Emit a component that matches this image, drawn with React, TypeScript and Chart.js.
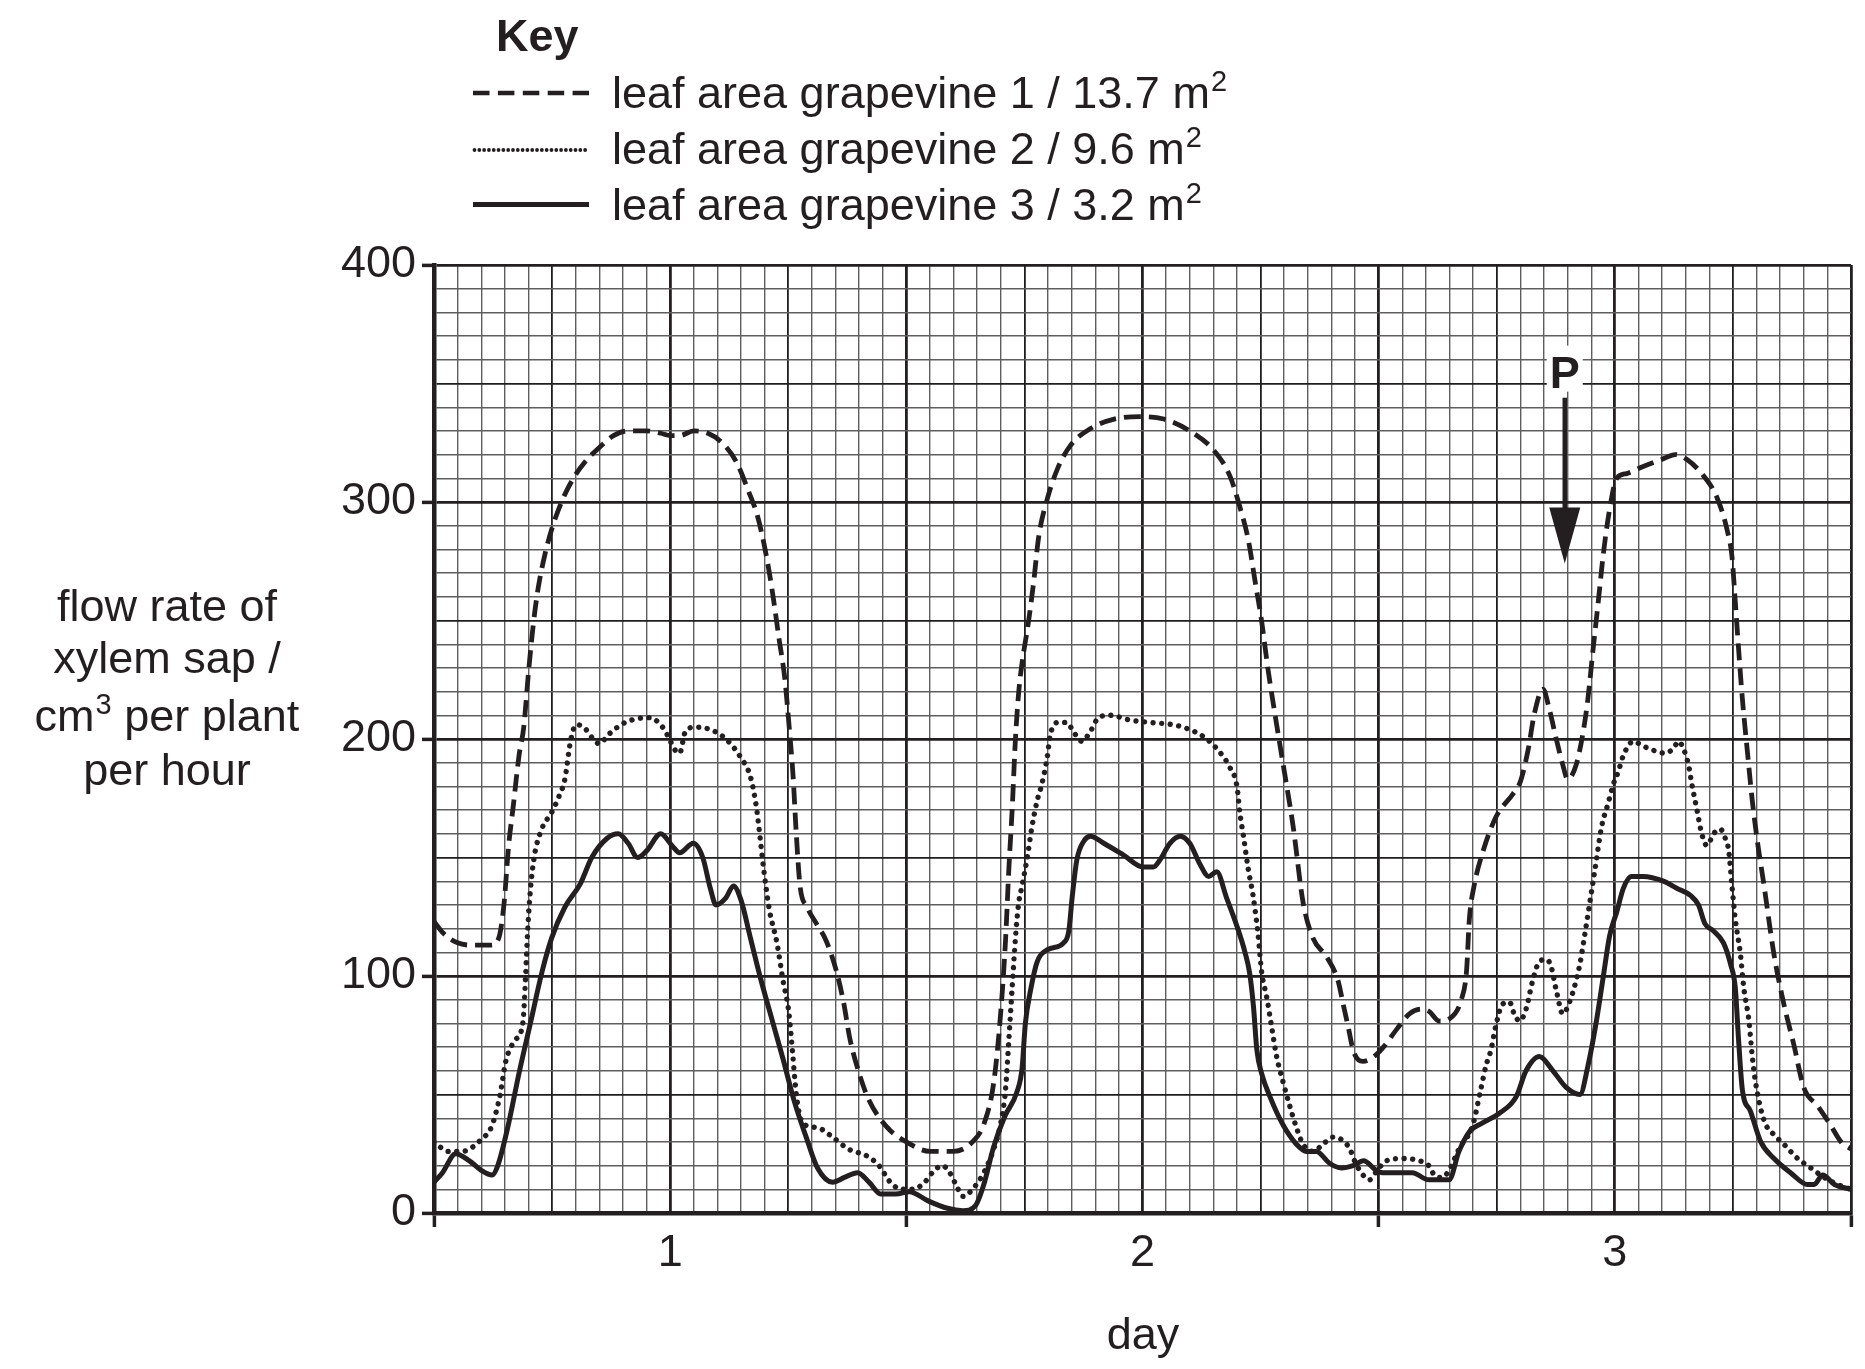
import React, { useEffect, useRef } from 'react';
import { Chart, registerables } from 'chart.js';

Chart.register(...registerables);

// ---------- data (day, flow rate cm3 per plant per hour) ----------
const days1 = [0.5, 0.52, 0.55, 0.58, 0.62, 0.637, 0.648, 0.658, 0.668, 0.68, 0.69, 0.7, 0.71, 0.72, 0.735, 0.75, 0.77, 0.795, 0.82, 0.85, 0.88, 0.91, 0.95, 0.98, 1.0, 1.02, 1.05, 1.08, 1.11, 1.14, 1.165, 1.185, 1.2, 1.215, 1.23, 1.243, 1.252, 1.26, 1.267, 1.275, 1.29, 1.31, 1.33, 1.352, 1.368, 1.38, 1.4, 1.42, 1.46, 1.5, 1.55, 1.6, 1.64, 1.665, 1.685, 1.7, 1.71, 1.717, 1.724, 1.731, 1.738, 1.745, 1.759, 1.77, 1.78, 1.798, 1.82, 1.848, 1.89, 1.94, 2.0, 2.045, 2.1, 2.15, 2.185, 2.206, 2.224, 2.238, 2.252, 2.266, 2.28, 2.298, 2.319, 2.34, 2.361, 2.39, 2.414, 2.425, 2.436, 2.447, 2.467, 2.49, 2.51, 2.54, 2.565, 2.59, 2.607, 2.628, 2.65, 2.675, 2.686, 2.692, 2.702, 2.72, 2.748, 2.785, 2.8, 2.816, 2.83, 2.848, 2.862, 2.876, 2.89, 2.9, 2.918, 2.933, 2.943, 2.954, 2.965, 2.975, 2.989, 3.004, 3.025, 3.06, 3.1, 3.128, 3.152, 3.188, 3.216, 3.238, 3.248, 3.255, 3.262, 3.27, 3.28, 3.291, 3.301, 3.316, 3.337, 3.358, 3.379, 3.4, 3.43, 3.457, 3.479, 3.5];
const flow1 = [123, 118, 114, 113, 113, 116, 130, 155, 172, 193, 205, 228, 248, 263, 278, 289, 300, 310, 317, 323, 328, 330, 330, 329, 328, 328, 330, 329, 325, 317, 305, 294, 281, 264, 243, 225, 205, 185, 160, 138, 129, 122, 115, 102, 88, 74, 59, 48, 36, 30, 26, 26, 30, 38, 55, 85, 115, 145, 170, 200, 220, 232, 250, 267, 285, 301, 314, 324, 331, 335, 336, 335, 330, 322, 311, 298, 284, 267, 250, 229, 211, 189, 163, 131, 116, 108, 98, 88, 78, 68, 64, 66, 70, 78, 84, 86, 85, 81, 82, 90, 102, 124, 138, 152, 167, 177, 182, 195, 211, 221, 212, 200, 189, 183, 189, 203, 217, 238, 258, 277, 297, 310, 312, 315, 318, 320, 318, 311, 302, 288, 277, 258, 238, 217, 196, 174, 158, 138, 109, 88, 71, 53, 45, 37, 30, 27];

const days2 = [0.5, 0.53, 0.56, 0.6, 0.623, 0.64, 0.652, 0.672, 0.688, 0.694, 0.698, 0.704, 0.712, 0.728, 0.749, 0.765, 0.777, 0.789, 0.801, 0.817, 0.837, 0.85, 0.87, 0.905, 0.955, 0.98, 0.996, 1.008, 1.02, 1.032, 1.053, 1.085, 1.118, 1.15, 1.17, 1.182, 1.19, 1.198, 1.21, 1.226, 1.239, 1.251, 1.259, 1.267, 1.28, 1.312, 1.344, 1.377, 1.417, 1.442, 1.466, 1.49, 1.514, 1.539, 1.555, 1.576, 1.592, 1.605, 1.62, 1.64, 1.664, 1.685, 1.699, 1.71, 1.717, 1.724, 1.731, 1.738, 1.745, 1.756, 1.766, 1.777, 1.787, 1.798, 1.805, 1.823, 1.84, 1.854, 1.872, 1.889, 1.907, 1.931, 1.973, 2.015, 2.065, 2.1, 2.129, 2.157, 2.185, 2.2, 2.206, 2.213, 2.224, 2.234, 2.245, 2.252, 2.263, 2.273, 2.284, 2.298, 2.312, 2.326, 2.34, 2.361, 2.382, 2.403, 2.421, 2.439, 2.449, 2.463, 2.481, 2.497, 2.516, 2.551, 2.587, 2.606, 2.618, 2.635, 2.649, 2.67, 2.699, 2.716, 2.727, 2.738, 2.748, 2.762, 2.777, 2.787, 2.798, 2.812, 2.826, 2.84, 2.855, 2.865, 2.876, 2.89, 2.904, 2.918, 2.926, 2.936, 2.947, 2.958, 2.972, 2.986, 2.997, 3.007, 3.018, 3.039, 3.06, 3.085, 3.106, 3.124, 3.135, 3.145, 3.156, 3.163, 3.174, 3.184, 3.195, 3.209, 3.223, 3.234, 3.241, 3.248, 3.255, 3.266, 3.273, 3.284, 3.291, 3.298, 3.316, 3.337, 3.358, 3.387, 3.415, 3.443, 3.472, 3.5];
const flow2 = [30, 26, 26, 31, 37, 50, 64, 73, 80, 100, 118, 136, 150, 162, 169, 176, 183, 199, 206, 205, 200, 198, 202, 207, 209, 206, 201, 196, 194, 203, 205, 204, 200, 192, 184, 172, 159, 145, 128, 114, 98, 85, 68, 50, 38, 36, 32, 27, 24, 20, 13, 10, 10, 13, 17, 20, 17, 12, 7, 10, 17, 27, 37, 52, 73, 95, 116, 131, 138, 150, 163, 174, 181, 192, 202, 207, 207, 203, 199, 203, 209, 210, 208, 207, 206, 204, 201, 196, 188, 180, 169, 160, 145, 134, 117, 102, 91, 79, 66, 55, 45, 36, 29, 26, 29, 32, 31, 27, 22, 17, 14, 18, 22, 23, 22, 20, 16, 15, 18, 27, 37, 52, 62, 69, 79, 88, 89, 84, 81, 86, 98, 106, 107, 104, 94, 84, 89, 98, 105, 117, 131, 145, 163, 173, 181, 186, 193, 199, 197, 195, 194, 196, 199, 196, 189, 181, 170, 160, 155, 160, 162, 158, 153, 138, 124, 109, 95, 81, 66, 55, 39, 33, 29, 23, 19, 15, 12, 10];

const days3 = [0.5, 0.518, 0.546, 0.575, 0.6, 0.623, 0.635, 0.656, 0.68, 0.704, 0.729, 0.749, 0.777, 0.81, 0.834, 0.866, 0.89, 0.911, 0.931, 0.951, 0.98, 1.004, 1.02, 1.049, 1.069, 1.085, 1.097, 1.118, 1.134, 1.15, 1.17, 1.19, 1.215, 1.239, 1.263, 1.288, 1.312, 1.344, 1.369, 1.397, 1.421, 1.446, 1.478, 1.506, 1.547, 1.587, 1.62, 1.646, 1.664, 1.685, 1.709, 1.734, 1.745, 1.752, 1.763, 1.777, 1.798, 1.833, 1.844, 1.851, 1.861, 1.876, 1.89, 1.918, 1.96, 2.001, 2.023, 2.037, 2.058, 2.08, 2.1, 2.122, 2.14, 2.157, 2.178, 2.2, 2.217, 2.227, 2.235, 2.242, 2.252, 2.27, 2.298, 2.326, 2.347, 2.368, 2.396, 2.421, 2.446, 2.468, 2.495, 2.509, 2.571, 2.606, 2.649, 2.67, 2.691, 2.72, 2.755, 2.791, 2.812, 2.84, 2.869, 2.897, 2.926, 2.943, 2.961, 2.975, 2.989, 3.004, 3.018, 3.035, 3.06, 3.103, 3.131, 3.16, 3.177, 3.191, 3.209, 3.23, 3.245, 3.255, 3.262, 3.27, 3.287, 3.309, 3.337, 3.372, 3.408, 3.422, 3.44, 3.465, 3.5];
const flow3 = [13, 17, 25, 22, 18, 16, 20, 36, 59, 80, 102, 116, 129, 139, 150, 158, 160, 156, 150, 153, 160, 155, 152, 156, 150, 137, 130, 133, 138, 132, 116, 100, 82, 65, 47, 32, 19, 13, 15, 17, 13, 8, 8, 9, 5, 2, 1, 3, 12, 28, 41, 51, 61, 80, 94, 106, 111, 114, 119, 133, 149, 157, 159, 156, 151, 146, 146, 149, 156, 159, 156, 147, 142, 144, 133, 121, 110, 101, 87, 69, 59, 49, 37, 29, 26, 26, 21, 19, 20, 22, 18, 17, 17, 14, 14, 26, 34, 38, 42, 49, 60, 66, 60, 53, 50, 62, 81, 99, 117, 127, 137, 142, 142, 140, 137, 134, 130, 122, 119, 114, 105, 95, 73, 52, 43, 30, 23, 17, 12, 12, 16, 12, 10];

const seriesLabels = [
  'leaf area grapevine 1 / 13.7 m²',
  'leaf area grapevine 2 / 9.6 m²',
  'leaf area grapevine 3 / 3.2 m²',
];
const legendMain = ['leaf area grapevine 1 / 13.7 m', 'leaf area grapevine 2 / 9.6 m', 'leaf area grapevine 3 / 3.2 m'];
const dayLabels = [1, 2, 3];
const yLabels = [0, 100, 200, 300, 400];
const xTickValues = Array.from({ length: 61 }, (_, i) => 0.5 + i * 0.05);
const yTickValues = Array.from({ length: 41 }, (_, i) => i * 10);

// annotation P (data units)
const arrowDay = 2.894;
const arrowTip = 274;
const arrowTail = 344;
const arrowLabelValue = 355;

// ---------- styling ----------
const INK = '#231f20';
const FONT = '"Liberation Sans", Arial, Helvetica, sans-serif';
const W = 1865;
const H = 1369;
const AREA = { left: 434, top: 265, right: 1851, bottom: 1213 };
const FS = 45;

const pts = (xs: number[], ys: number[]) => xs.map((x, i) => ({ x, y: ys[i] }));

const gridColor = (i: number, period: number) =>
  i % (2 * period) === 0 ? INK : i % period === 0 ? '#1e1e1e' : '#5e5e5e';
const gridWidth = (i: number, period: number) =>
  i % (2 * period) === 0 ? 2.8 : i % period === 0 ? 1.8 : 1.4;

const arrowPlugin = {
  id: 'arrowP',
  afterDatasetsDraw(chart: any) {
    const { ctx, scales } = chart;
    const px = scales.x.getPixelForValue(arrowDay);
    const tipY = scales.y.getPixelForValue(arrowTip);
    const tailY = scales.y.getPixelForValue(arrowTail);
    const labY = scales.y.getPixelForValue(arrowLabelValue);
    const headLen = 56;
    const headHalf = 15.5;
    ctx.save();
    ctx.fillStyle = '#ffffff';
    ctx.fillRect(px - 18, labY - 26, 36, 46);
    ctx.fillStyle = INK;
    ctx.font = `bold ${FS}px ${FONT}`;
    ctx.textAlign = 'center';
    ctx.textBaseline = 'alphabetic';
    ctx.fillText('P', px, labY + 16);
    ctx.strokeStyle = INK;
    ctx.lineWidth = 4.5;
    ctx.beginPath();
    ctx.moveTo(px, tailY);
    ctx.lineTo(px, tipY - headLen + 2);
    ctx.stroke();
    ctx.beginPath();
    ctx.moveTo(px - headHalf, tipY - headLen);
    ctx.lineTo(px + headHalf, tipY - headLen);
    ctx.lineTo(px, tipY);
    ctx.closePath();
    ctx.fill();
    ctx.restore();
  },
};

const textLine = (top: number, extra: React.CSSProperties = {}): React.CSSProperties => ({
  position: 'absolute',
  top,
  fontSize: FS,
  lineHeight: `${FS}px`,
  whiteSpace: 'nowrap',
  color: INK,
  ...extra,
});

const Sup = ({ children }: { children: React.ReactNode }) => (
  <span style={{ fontSize: 29, position: 'relative', top: -17, marginLeft: 1 }}>{children}</span>
);

export default function App() {
  const canvasRef = useRef<HTMLCanvasElement | null>(null);

  useEffect(() => {
    const canvas = canvasRef.current;
    if (!canvas) return;
    const chart = new Chart(canvas, {
      type: 'line',
      data: {
        datasets: [
          {
            label: seriesLabels[0],
            data: pts(days1, flow1),
            borderColor: INK,
            borderWidth: 4.8,
            borderDash: [17, 8],
            pointRadius: 0,
            cubicInterpolationMode: 'monotone',
            fill: false,
          },
          {
            label: seriesLabels[1],
            data: pts(days2, flow2),
            borderColor: INK,
            borderWidth: 5.4,
            borderDash: [0.01, 8.6],
            borderCapStyle: 'round',
            pointRadius: 0,
            cubicInterpolationMode: 'monotone',
            fill: false,
          },
          {
            label: seriesLabels[2],
            data: pts(days3, flow3),
            borderColor: INK,
            borderWidth: 5,
            borderJoinStyle: 'round',
            borderCapStyle: 'round',
            pointRadius: 0,
            cubicInterpolationMode: 'monotone',
            fill: false,
          },
        ],
      },
      options: {
        responsive: false,
        animation: false,
        events: [],
        layout: { padding: { left: 0, top: AREA.top, right: W - AREA.right, bottom: 0 } },
        plugins: { legend: { display: false }, tooltip: { enabled: false }, title: { display: false } },
        scales: {
          x: {
            type: 'linear',
            min: 0.5,
            max: 3.5,
            afterBuildTicks: (s: any) => {
              s.ticks = xTickValues.map((v) => ({ value: v }));
            },
            afterFit: (s: any) => {
              s.height = H - AREA.bottom;
            },
            ticks: {
              autoSkip: false,
              maxRotation: 0,
              padding: 4,
              color: INK,
              font: { family: FONT, size: FS, lineHeight: 1 },
              callback: (v: any) => {
                const d = dayLabels.find((n) => Math.abs(n - Number(v)) < 1e-6);
                return d !== undefined ? String(d) : '';
              },
            },
            grid: {
              color: (c: any) => gridColor(c.index, 5),
              lineWidth: (c: any) => gridWidth(c.index, 5),
              drawTicks: true,
              tickLength: 14,
              tickWidth: 3.5,
              tickColor: (c: any) => (c.index % 20 === 0 ? INK : 'rgba(0,0,0,0)'),
            },
            border: { display: true, color: INK, width: 4.5 },
          },
          y: {
            type: 'linear',
            min: 0,
            max: 400,
            afterBuildTicks: (s: any) => {
              s.ticks = yTickValues.map((v) => ({ value: v }));
            },
            afterFit: (s: any) => {
              s.width = AREA.left;
            },
            ticks: {
              autoSkip: false,
              padding: 6,
              color: INK,
              font: { family: FONT, size: FS, lineHeight: 1 },
              callback: (v: any) => {
                const n = yLabels.find((m) => Math.abs(m - Number(v)) < 1e-6);
                return n !== undefined ? String(n) : '';
              },
            },
            grid: {
              color: (c: any) => gridColor(c.index, 5),
              lineWidth: (c: any) => gridWidth(c.index, 5),
              drawTicks: true,
              tickLength: 12,
              tickWidth: 3.5,
              tickColor: (c: any) => (c.index % 10 === 0 ? INK : 'rgba(0,0,0,0)'),
            },
            border: { display: true, color: INK, width: 4.5 },
          },
        },
      },
      plugins: [arrowPlugin],
    } as any);
    return () => chart.destroy();
  }, []);

  const base = 38.1; // baseline offset inside a 45px line box
  const rowBaselines = [108, 164, 220];
  const sampleY = [93, 150, 204.6];
  const yTitle = [
    { b: 621, content: <>flow rate of</> },
    { b: 673, content: <>xylem sap /</> },
    { b: 731, content: <>cm<Sup>3</Sup> per plant</> },
    { b: 785, content: <>per hour</> },
  ];

  return (
    <div
      style={{
        position: 'absolute',
        left: 0,
        top: 0,
        width: W,
        height: H,
        overflow: 'hidden',
        background: '#ffffff',
        fontFamily: FONT,
        color: INK,
      }}
    >
      <canvas ref={canvasRef} width={W} height={H} style={{ position: 'absolute', left: 0, top: 0, width: W, height: H }} />

      {/* Key */}
      <div style={textLine(51 - base, { left: 496, fontWeight: 'bold' })}>Key</div>
      <svg width={130} height={240} style={{ position: 'absolute', left: 466, top: 0 }}>
        <line x1={7} x2={123} y1={sampleY[0]} y2={sampleY[0]} stroke={INK} strokeWidth={4.6} strokeDasharray="16.5 8.4" />
        <line x1={8.5} x2={123} y1={sampleY[1]} y2={sampleY[1]} stroke={INK} strokeWidth={3.8} strokeDasharray="0.01 4.8" strokeLinecap="round" />
        <line x1={7} x2={123} y1={sampleY[2]} y2={sampleY[2]} stroke={INK} strokeWidth={5} />
      </svg>
      {legendMain.map((t, i) => (
        <div key={t} style={textLine(rowBaselines[i] - base, { left: 612 })}>
          {t}
          <Sup>2</Sup>
        </div>
      ))}

      {/* y-axis title */}
      {yTitle.map((l, i) => (
        <div key={i} style={textLine(l.b - base, { left: 0, width: 334, textAlign: 'center' })}>
          {l.content}
        </div>
      ))}

      {/* x-axis title */}
      <div style={textLine(1349 - base, { left: 1043, width: 200, textAlign: 'center' })}>day</div>
    </div>
  );
}
